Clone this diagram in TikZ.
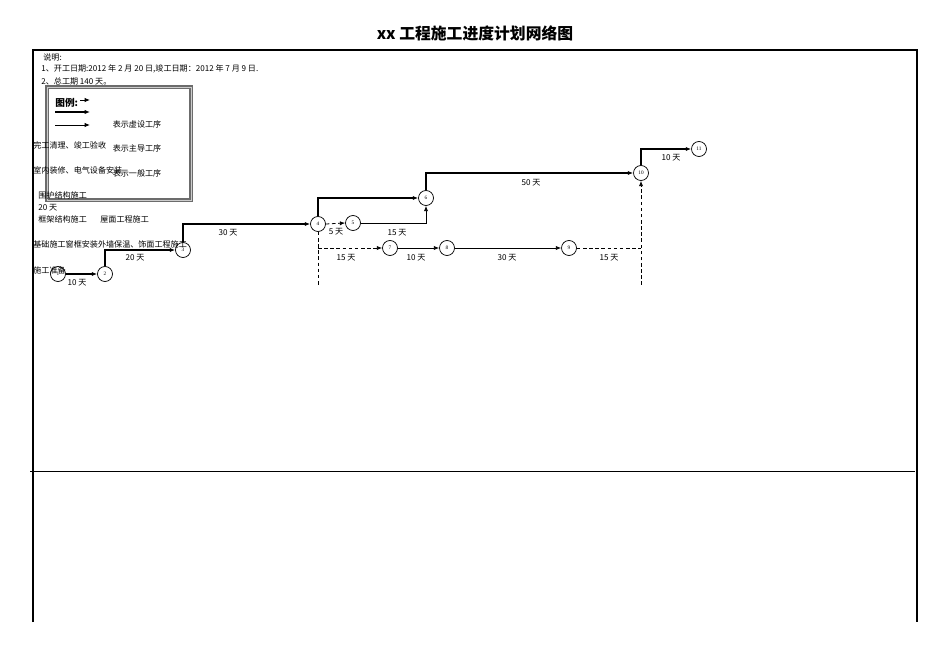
\documentclass[tikz,border=0pt]{standalone}
\usepackage{fontspec}
\setmainfont{Liberation Serif}
\newfontfamily\cjk{Noto Sans CJK SC}
\usetikzlibrary{arrows.meta}
\begin{document}
\begin{tikzpicture}[x=0.02cm,y=-0.02cm,
  ev/.style={circle,draw,inner sep=0pt,minimum size=0.3cm,font=\fontsize{3}{3}\selectfont},
  lbl/.style={font=\cjk\fontsize{4.6}{5}\selectfont,inner sep=0pt},
  llbl/.style={lbl,anchor=west},
  main/.style={line width=0.8pt,-{Latex[length=3pt,width=2.4pt]}},
  gen/.style={line width=0.45pt,-{Latex[length=3pt,width=2.4pt]}},
  dum/.style={line width=0.45pt,dashed,dash pattern=on 2pt off 1.5pt,-{Latex[length=3pt,width=2.4pt]}},
  dl/.style={line width=0.4pt,dash pattern=on 2pt off 1.5pt}]
\useasboundingbox (0,0) rectangle (950,672);
\node[font=\cjk\bfseries\fontsize{9}{10}\selectfont] (title) at (475,33) {xx 工程施工进度计划网络图};
\draw[line width=0.7pt] (33,622) -- (33,50) -- (917,50) -- (917,622);
\draw[line width=0.5pt] (30,471) -- (915,471);
% notes
\node[llbl] (n0) at (43,57) {说明:};
\node[llbl] (n1) at (41,69) {1、开工日期:2012 年 2 月 20 日,竣工日期：2012 年 7 月 9 日.};
\node[llbl] (n2) at (41,81) {2、总工期 140 天。};
% legend
\draw[line width=1.8pt,gray!85!black] (47,87) rectangle (191,200);
\draw[line width=0.3pt,gray!40] (47,87) rectangle (191,200);
\node[lbl,font=\cjk\bfseries\fontsize{5.5}{6}\selectfont,anchor=west] (lg) at (55,103) {图例:};
\coordinate (la1) at (80,100); \coordinate (lb1) at (90,100);
\coordinate (la2) at (55,112); \coordinate (lb2) at (90,112);
\coordinate (la3) at (55,125); \coordinate (lb3) at (90,125);
\draw[gen] (la1) -- (lb1); \draw[main] (la2) -- (lb2); \draw[gen] (la3) -- (lb3);
\node[lbl] (t1) at (137,124) {表示虚设工序};
\node[lbl] (t2) at (137,148) {表示主导工序};
\node[lbl] (t3) at (137,173) {表示一般工序};
% side labels
\node[llbl] (s1) at (33,145) {完工清理、竣工验收};
\node[llbl] (s2) at (33,170) {室内装修、电气设备安装};
\node[llbl] (s3) at (38,195) {围护结构施工};
\node[llbl] (s4) at (38,208) {20 天};
\node[llbl] (s5) at (38,219) {框架结构施工};
\node[llbl] (s6) at (100,219) {屋面工程施工};
\node[llbl] (s7) at (33,244) {基础施工窗框安装外墙保温、饰面工程施工};
\node[llbl] (s8) at (33,270) {施工准备};
% events
\node[ev] (e1) at (58,274) {1};
\node[ev] (e2) at (105,274) {2};
\node[ev] (e3) at (183,250) {3};
\node[ev] (e4) at (318,224) {4};
\node[ev] (e5) at (353,223) {5};
\node[ev] (e6) at (426,198) {6};
\node[ev] (e7) at (390,248) {7};
\node[ev] (e8) at (447,248) {8};
\node[ev] (e9) at (569,248) {9};
\node[ev] (e10) at (641,173) {10};
\node[ev] (e11) at (699,149) {11};
% arrows
\draw[main] (e1.east) -- (e2.west);
\draw[main] (e2.north) |- (e3.west);
\draw[main] (e3.north) |- (e4.west);
\draw[main] (e4.north) |- (e6.west);
\draw[dum] (e4.east) -- (e5.west);
\coordinate (j5) at (426,223);
\draw[gen] (e5.east) -- (j5) -- (e6.south);
\coordinate (d4) at (318,285);
\draw[dl] (e4.south) -- (d4);
\coordinate (c7) at (318,248);
\draw[dum] (c7) -- (e7.west);
\draw[gen] (e7.east) -- (e8.west);
\draw[gen] (e8.east) -- (e9.west);
\coordinate (c9) at (641,248);
\coordinate (d10) at (641,285);
\draw[dl] (e9.east) -- (c9);
\draw[dum] (d10) -- (e10.south);
\draw[main] (e6.north) |- (e10.west);
\draw[main] (e10.north) |- (e11.west);
% durations
\node[lbl] (w1) at (77,283) {10 天};
\node[lbl] (w2) at (135,258) {20 天};
\node[lbl] (w3) at (228,233) {30 天};
\node[lbl] (w4) at (336,232) {5 天};
\node[lbl] (w5) at (397,233) {15 天};
\node[lbl] (w6) at (346,258) {15 天};
\node[lbl] (w7) at (416,258) {10 天};
\node[lbl] (w8) at (507,258) {30 天};
\node[lbl] (w9) at (609,258) {15 天};
\node[lbl] (w10) at (531,183) {50 天};
\node[lbl] (w11) at (671,158) {10 天};
\end{tikzpicture}
\end{document}
